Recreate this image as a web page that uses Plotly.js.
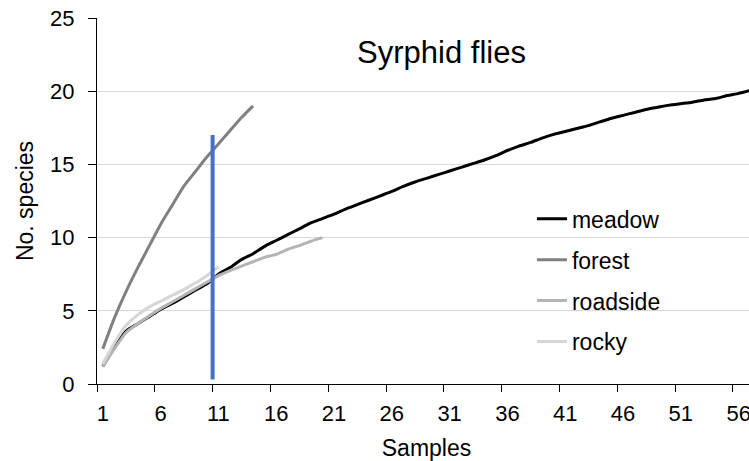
<!DOCTYPE html>
<html>
<head>
<meta charset="utf-8">
<script src="https://cdn.plot.ly/plotly-3.0.1.min.js"></script>
<style>
html,body{margin:0;padding:0;overflow:hidden;background:#fff;}
#chart{width:770px;height:461px;}
</style>
</head>
<body>
<div id="chart"></div>
<script>
// ---- data ----
const meadow = [1.2,2.5,3.6,4.1,4.6,5.1,5.5,5.95,6.4,6.85,7.5,7.95,8.5,8.9,9.4,9.8,10.2,10.6,11.0,11.3,
  11.6,11.95,12.25,12.55,12.85,13.15,13.5,13.8,14.05,14.3,14.55,14.8,15.05,15.3,15.6,15.95,16.25,16.5,16.8,17.05,
  17.25,17.45,17.65,17.9,18.15,18.35,18.55,18.75,18.9,19.05,19.15,19.25,19.4,19.5,19.7,19.85,20.05];
const forest = [2.4,4.5,6.3,7.9,9.4,10.9,12.2,13.5,14.5,15.5,16.4,17.3,18.2,19.0];
const roadside = [1.2,2.4,3.5,4.1,4.65,5.15,5.6,6.05,6.5,6.95,7.4,7.75,8.05,8.35,8.65,8.85,9.2,9.45,9.75,10.0];
const rocky = [1.4,2.8,4.0,4.7,5.25,5.65,6.05,6.45,6.9,7.4,8.0];
const cutoffX = [10.5, 10.5];
const cutoffY = [0.3, 17];
const xTickVals = [1,6,11,16,21,26,31,36,41,46,51,56];
const xTickLabels = ["1","6","11","16","21","26","31","36","41","46","51","56"];
const xBoundaryTicks = [0.5,5.5,10.5,15.5,20.5,25.5,30.5,35.5,40.5,45.5,50.5,55.5];
const seriesNames = ["meadow","forest","roadside","rocky"];

const idx = arr => arr.map((_, i) => i + 1);
const FONT = "Liberation Sans, Arial, sans-serif";
const colors = ["#000000", "#808080", "#b4b4b4", "#d6d6d6"];
const series = [meadow, forest, roadside, rocky];

const traces = series.map((s, k) => ({
  type: "scatter", mode: "lines",
  x: idx(s), y: s,
  name: seriesNames[k],
  legendgroup: seriesNames[k],
  line: {color: colors[k], width: 3, shape: "spline", smoothing: 0.6},
  hoverinfo: "skip"
}));
traces.push({
  type: "scatter", mode: "lines",
  x: cutoffX, y: cutoffY,
  showlegend: false,
  line: {color: "#4472C4", width: 4},
  hoverinfo: "skip"
});
// helper invisible trace for boundary tick marks on xaxis2
traces.push({
  type: "scatter", mode: "lines", x: [0.5, 57.5], y: [null, null],
  xaxis: "x2", yaxis: "y", showlegend: false, hoverinfo: "skip"
});

const layout = {
  width: 770, height: 461,
  margin: {l: 97, r: 14, t: 18, b: 77},
  paper_bgcolor: "#ffffff", plot_bgcolor: "#ffffff",
  font: {family: FONT, color: "#000000", size: 22},
  showlegend: true,
  title: {
    text: "Syrphid flies",
    font: {family: FONT, size: 31, color: "#000000"},
    xref: "container", yref: "container",
    x: 441.5/770, xanchor: "center",
    y: 1 - 52/461, yanchor: "middle"
  },
  xaxis: {
    range: [0.5, 57.5],
    tickmode: "array", tickvals: xTickVals, ticktext: xTickLabels,
    ticks: "", showgrid: false, zeroline: false,
    showline: true, linecolor: "#000000", linewidth: 1,
    ticklabelstandoff: 10,
    tickfont: {family: FONT, size: 22, color: "#000000"},
    title: {text: "Samples", font: {family: FONT, size: 23, color: "#000000"}, standoff: 14},
    automargin: false
  },
  xaxis2: {
    range: [0.5, 57.5], overlaying: "x", anchor: "y", side: "bottom",
    tickmode: "array", tickvals: xBoundaryTicks,
    ticks: "outside", ticklen: 7, tickcolor: "#000000", tickwidth: 1,
    showticklabels: false, showgrid: false, zeroline: false, showline: false
  },
  yaxis: {
    range: [0, 25], dtick: 5, tick0: 0,
    ticks: "outside", ticklen: 8, tickcolor: "#000000", tickwidth: 1,
    ticklabelstandoff: 9,
    showgrid: true, gridcolor: "#d9d9d9", gridwidth: 1,
    zeroline: false, showline: true, linecolor: "#000000", linewidth: 1,
    tickfont: {family: FONT, size: 22, color: "#000000"},
    title: {text: "No. species", font: {family: FONT, size: 23, color: "#000000"}, standoff: 10},
    automargin: false
  },
  legend: {
    x: 0.66, xanchor: "left",
    y: 0.51, yanchor: "top",
    bgcolor: "rgba(0,0,0,0)",
    font: {family: FONT, size: 23, color: "#000000"},
    tracegroupgap: 8,
    traceorder: "grouped"
  }
};

Plotly.newPlot("chart", traces, layout, {staticPlot: true, displayModeBar: false});
</script>
</body>
</html>
